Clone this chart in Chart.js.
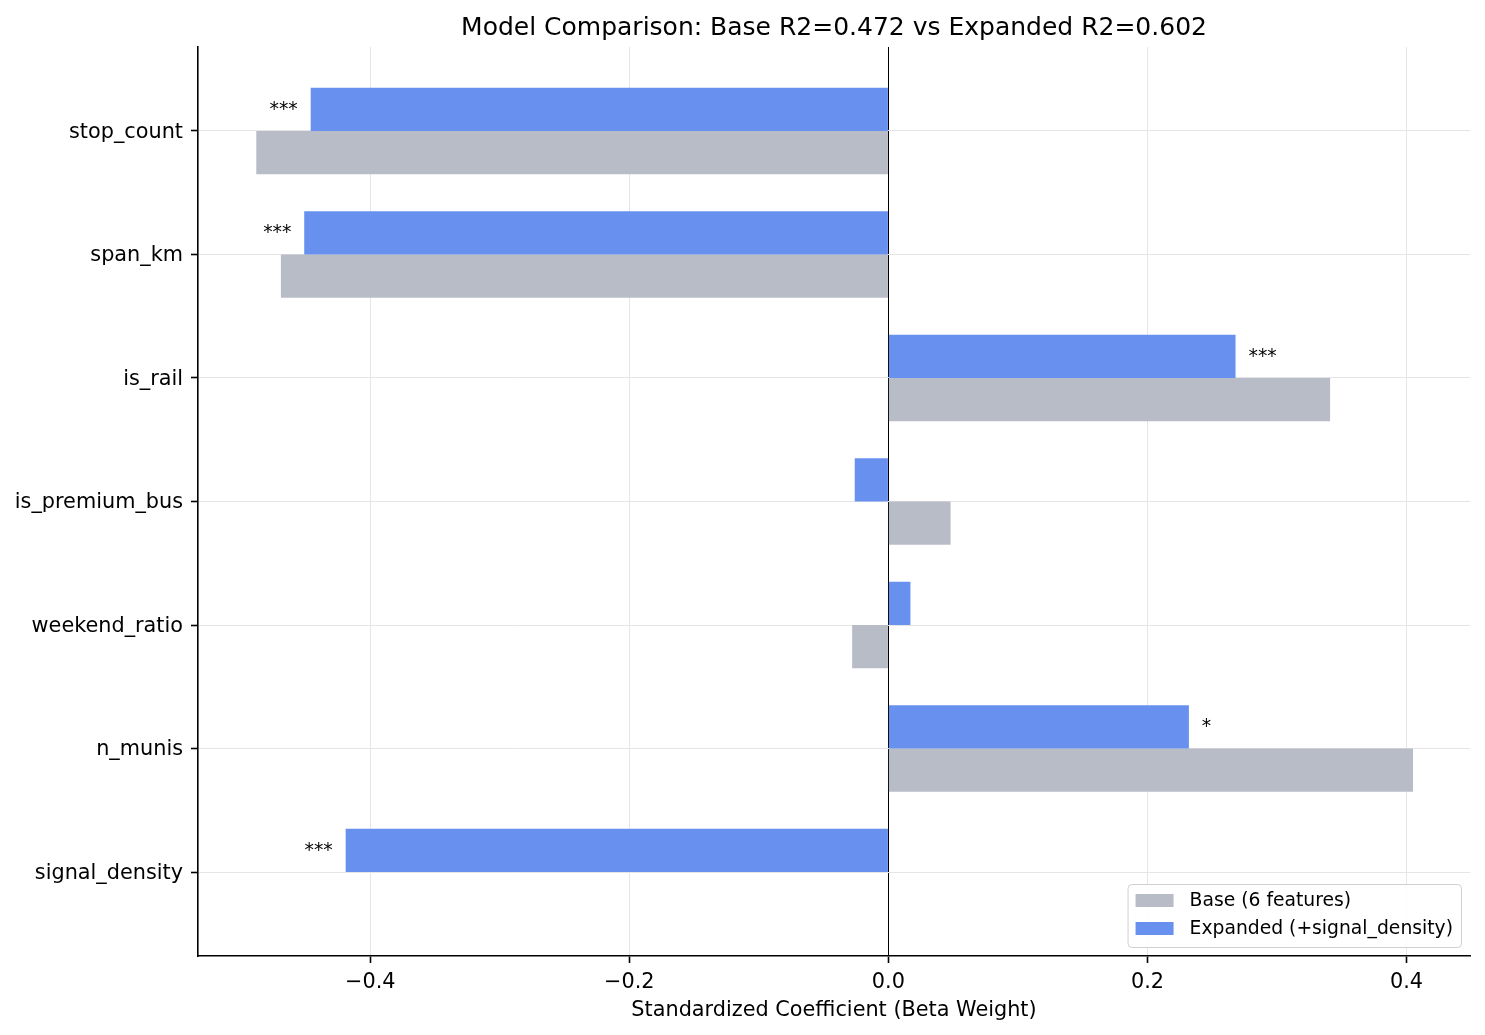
<!DOCTYPE html>
<html lang="en">
<head>
    <meta charset="UTF-8">
    <title>Model Comparison</title>
    <script src="https://cdn.jsdelivr.net/npm/chart.js"></script>
    <style>
        body { margin: 0; background: #fff; }
    </style>
</head>
<body>
<canvas id="coefChart" width="1485" height="1035"></canvas>

<script>
    // feature names, top to bottom
    const features = ['stop_count', 'span_km', 'is_rail', 'is_premium_bus', 'weekend_ratio', 'n_munis', 'signal_density'];
    // standardized betas
    const baseBeta = [-0.488, -0.469, 0.341, 0.048, -0.028, 0.405, null];
    const expandedBeta = [-0.446, -0.451, 0.268, -0.026, 0.017, 0.232, -0.419];
    const significance = ['***', '***', '***', '', '', '*', '***'];
    const xTicks = [-0.4, -0.2, 0.0, 0.2, 0.4];

    const FONT = '"DejaVu Sans", sans-serif';
    const BLUE = '#6891ef';
    const GREY = '#b8bcc6';

    // title, x label, significance stars and the legend box
    const decorations = {
        id: 'decorations',
        afterDatasetsDraw(chart) {
            const ctx = chart.ctx;
            const area = chart.chartArea;
            const xs = chart.scales.x;
            ctx.save();
            ctx.fillStyle = '#000';

            ctx.font = '25px ' + FONT;
            ctx.textAlign = 'center';
            ctx.textBaseline = 'alphabetic';
            ctx.fillText('Model Comparison: Base R2=0.472 vs Expanded R2=0.602', (area.left + area.right) / 2, 35);

            ctx.font = '20.8px ' + FONT;
            ctx.fillText('Standardized Coefficient (Beta Weight)', (area.left + area.right) / 2, 1016);

            // stars next to the expanded bars
            ctx.font = '18.75px ' + FONT;
            const meta = chart.getDatasetMeta(0);
            expandedBeta.forEach((v, i) => {
                if (!significance[i]) return;
                const bar = meta.data[i];
                const off = v < 0 ? -0.01 : 0.01;
                ctx.textAlign = v < 0 ? 'right' : 'left';
                ctx.fillText(significance[i], xs.getPixelForValue(v + off), bar.y + 5.5);
            });

            // legend, lower right
            const items = [
                { label: chart.data.datasets[1].label, color: GREY },
                { label: chart.data.datasets[0].label, color: BLUE }
            ];
            ctx.font = '18.75px ' + FONT;
            const tw = Math.max(...items.map(it => ctx.measureText(it.label).width));
            const w = 8 + 38 + 16 + tw + 8;
            const h = 63;
            const bx = area.right - 9 - w;
            const by = area.bottom - 9 - h;
            ctx.beginPath();
            ctx.roundRect(bx + 0.5, by + 0.5, w, h, 4);
            ctx.fillStyle = 'rgba(255,255,255,0.85)';
            ctx.fill();
            ctx.strokeStyle = '#d0d0d0';
            ctx.lineWidth = 1;
            ctx.stroke();
            ctx.textAlign = 'left';
            ctx.textBaseline = 'middle';
            items.forEach((it, k) => {
                const cy = by + 16.5 + k * 28;
                ctx.fillStyle = it.color;
                ctx.fillRect(bx + 8, cy - 6.5, 38, 13);
                ctx.fillStyle = '#000';
                ctx.fillText(it.label, bx + 62, cy + 1);
            });
            ctx.restore();
        }
    };

    const ctx = document.getElementById('coefChart').getContext('2d');
    new Chart(ctx, {
        type: 'bar',
        data: {
            datasets: [
                {
                    label: 'Expanded (+signal_density)',
                    data: features.map((f, i) => ({ y: i, x: expandedBeta[i] })),
                    backgroundColor: BLUE
                },
                {
                    label: 'Base (6 features)',
                    data: features.map((f, i) => ({ y: i, x: baseBeta[i] })),
                    backgroundColor: GREY
                }
            ]
        },
        options: {
            indexAxis: 'y',
            responsive: false,
            animation: false,
            devicePixelRatio: 1,
            categoryPercentage: 0.7,
            barPercentage: 1.0,
            layout: { padding: { top: 47, right: 15, left: 0, bottom: 0 } },
            scales: {
                x: {
                    type: 'linear',
                    min: -0.533,
                    max: 0.449,
                    afterBuildTicks: s => { s.ticks = xTicks.map(v => ({ value: v })); },
                    afterFit: s => { s.height = 79; },
                    border: { display: true, color: '#000', width: 1.6 },
                    grid: {
                        color: c => (c.tick && c.tick.value === 0) ? '#000' : '#e6e6e6',
                        lineWidth: 1,
                        tickColor: '#000',
                        tickLength: 7,
                        tickWidth: 1.6
                    },
                    ticks: {
                        color: '#000',
                        font: { family: FONT, size: 20.8 },
                        padding: 7,
                        callback: v => v.toFixed(1).replace('-', '\u2212')
                    }
                },
                y: {
                    type: 'linear',
                    reverse: true,
                    offset: false,
                    min: -0.68,
                    max: 6.68,
                    afterBuildTicks: s => { s.ticks = features.map((f, i) => ({ value: i })); },
                    afterFit: s => { s.width = 198; },
                    border: { display: true, color: '#000', width: 1.6 },
                    grid: {
                        offset: false,
                        color: '#e5e5e5',
                        lineWidth: 1,
                        tickColor: '#000',
                        tickLength: 7,
                        tickWidth: 1.6
                    },
                    ticks: {
                        color: '#000',
                        font: { family: FONT, size: 20.8 },
                        padding: 8,
                        labelOffset: 1.5,
                        callback: v => features[v]
                    }
                }
            },
            plugins: {
                legend: { display: false },
                title: { display: false },
                tooltip: { enabled: false }
            }
        },
        plugins: [decorations]
    });
</script>
</body>
</html>
